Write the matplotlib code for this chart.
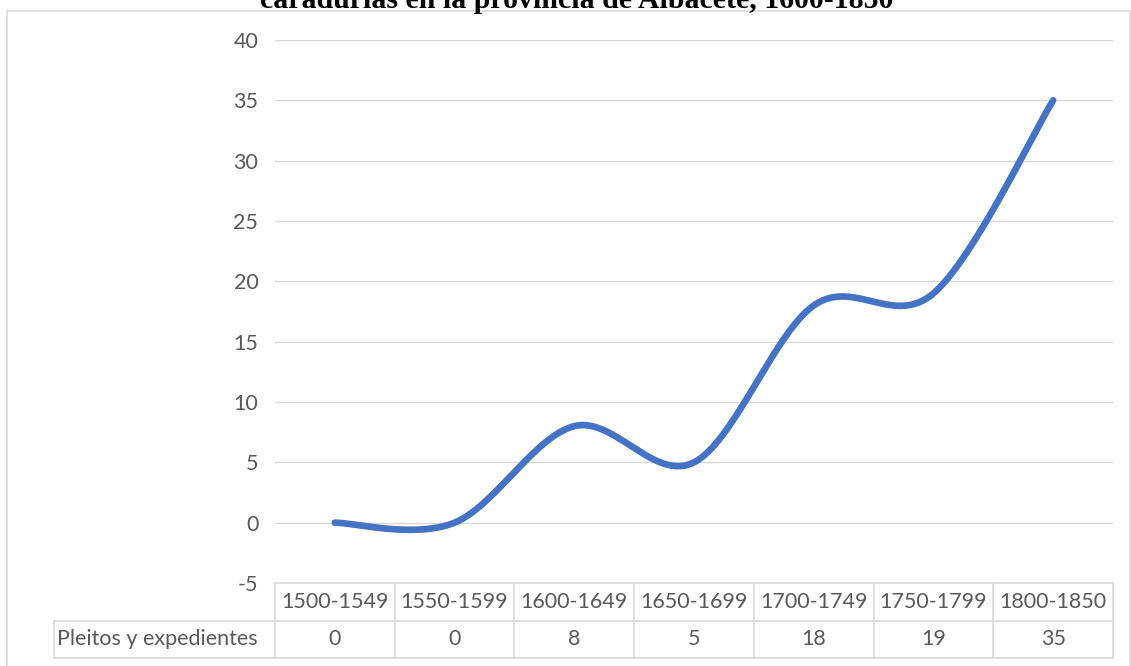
import numpy as np
import matplotlib.pyplot as plt
from matplotlib.patches import Rectangle

# data
periods = ["1500-1549", "1550-1599", "1600-1649", "1650-1699",
           "1700-1749", "1750-1799", "1800-1850"]
values = [0, 0, 8, 5, 18, 19, 35]
series_name = "Pleitos y expedientes"
title = "caradurias en la provincia de Albacete, 1600-1850"
yticks = list(range(-5, 45, 5))

W, H = 1131, 666
grey_txt = "#595959"
grey_line = "#D9D9D9"
blue = "#4472C4"
font = "Lato"


def smooth(xs, ys, n=60):
    # excel style bezier smoothing between points
    p = np.column_stack([xs, ys]).astype(float)
    p = np.vstack([p[0], p, p[-1]])
    out = []
    for i in range(1, len(p) - 2):
        p0, p1, p2, p3 = p[i - 1], p[i], p[i + 1], p[i + 2]
        c1 = p1 + (p2 - p0) / 6
        c2 = p2 - (p3 - p1) / 6
        t = np.linspace(0, 1, n)[:, None]
        seg = ((1 - t) ** 3) * p1 + 3 * ((1 - t) ** 2) * t * c1 \
            + 3 * (1 - t) * t ** 2 * c2 + t ** 3 * p2
        out.append(seg)
    out = np.vstack(out)
    return out[:, 0], out[:, 1]


fig = plt.figure(figsize=(W / 100, H / 100), dpi=100)

# outer chart border
fig.patches.append(Rectangle((7 / W, -0.05), (1130 - 7) / W, 1.05 - 11 / H,
                             transform=fig.transFigure, fill=False,
                             edgecolor=grey_line, lw=1.2))

# title, cut off at the top like the original
fig.text(577 / W, 1 - 8 / H, title, ha="center", va="baseline",
         family="Liberation Serif", weight="bold", fontsize=21.5)

left, right = 275 / W, 1113 / W
top, bottom = 1 - 40 / H, 1 - 583 / H
ax = fig.add_axes([left, bottom, right - left, top - bottom])

x = np.arange(len(values)) + 0.5
sx, sy = smooth(x, values)
ax.plot(sx, sy, color=blue, lw=4.8, solid_capstyle="round", zorder=3)

ax.set_xlim(0, len(values))
ax.set_ylim(-5, 40)
ax.set_yticks(yticks)
ax.set_yticklabels([str(v) for v in yticks], color=grey_txt,
                   fontsize=15.5, family=font)
ax.set_xticks([])
ax.tick_params(axis="y", length=0, pad=12)
ax.grid(axis="y", color=grey_line, lw=1)
ax.set_axisbelow(True)
for s in ax.spines.values():
    s.set_visible(False)

# data table under the chart
lab_w = (275 - 54) / 119.7
tab = fig.add_axes([54 / W, 1 - 658 / H, (1113 - 54) / W, (658 - 583) / H])
tab.set_xlim(-lab_w, len(values))
tab.set_ylim(0, 2)
tab.axis("off")
n = len(values)
tab.plot([0, n], [2, 2], color=grey_line, lw=1.2, clip_on=False)
tab.plot([-lab_w, n], [1, 1], color=grey_line, lw=1.2, clip_on=False)
tab.plot([-lab_w, n], [0, 0], color=grey_line, lw=1.2, clip_on=False)
tab.plot([-lab_w, -lab_w], [0, 1], color=grey_line, lw=1.2, clip_on=False)
for i in range(n + 1):
    tab.plot([i, i], [0, 2], color=grey_line, lw=1.2, clip_on=False)
for i, (p, v) in enumerate(zip(periods, values)):
    tab.text(i + 0.5, 1.5, p, ha="center", va="center", color=grey_txt,
             fontsize=15.5, family=font)
    tab.text(i + 0.5, 0.5, str(v), ha="center", va="center", color=grey_txt,
             fontsize=15.5, family=font)
tab.text(-lab_w + 0.025, 0.5, series_name, ha="left", va="center",
         color=grey_txt, fontsize=15.5, family=font)

fig.savefig("out.png", dpi=100)
